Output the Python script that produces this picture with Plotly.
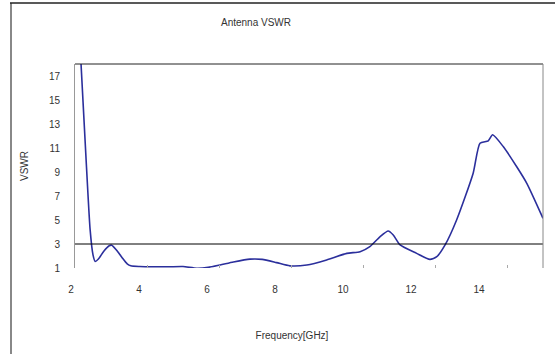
import plotly.graph_objects as go

# Data (Frequency in GHz, VSWR)
freq = [2.0, 2.15, 2.3, 2.42, 2.5, 2.56, 2.65, 2.8, 2.95, 3.02, 3.15, 3.3, 3.45, 3.55,
        3.8, 4.2, 4.6, 5.0, 5.38, 5.7, 6.03, 6.4, 6.86, 7.2, 7.6, 7.97, 8.44, 8.99,
        9.55, 9.92, 10.19, 10.47, 10.7, 10.84, 11.03, 11.49, 11.86, 12.05, 12.28,
        12.6, 13.06, 13.25, 13.48, 13.6, 13.9, 14.27, 14.55, 15.0]
vswr = [27.0, 19.0, 10.5, 4.2, 2.1, 1.55, 1.75, 2.4, 2.85, 2.9, 2.5, 1.9, 1.35, 1.18,
        1.12, 1.1, 1.1, 1.12, 0.98, 1.05, 1.25, 1.5, 1.74, 1.72, 1.45, 1.18, 1.25, 1.67,
        2.22, 2.36, 2.78, 3.6, 4.08, 3.75, 2.92, 2.22, 1.72, 1.94, 2.92,
        5.0, 8.9, 11.4, 11.6, 12.1, 11.1, 9.44, 8.06, 5.14]

x_ticks = [2, 4, 6, 8, 10, 12, 14]
x_tick_labels = ["2", "4", "6", "8", "10", "12", "14"]
y_ticks = [1, 3, 5, 7, 9, 11, 13, 15, 17]
threshold = 3

FONT = "Liberation Sans"
W, H = 555, 354
L, R, T, B = 66, 12, 64, 86
PLOT_LEFT = 75
pw, ph = W - L - R, H - T - B

def px_x(p):
    return (p - L) / pw

def px_y(p):
    return (H - B - p) / ph

LBL_SCALE = 34  # px per GHz for the label row
LBL_X2 = 71     # pixel of label "2"
LBL_RIGHT = 518

fig = go.Figure()
# dummy trace for the label axis (added first so it sits underneath)
fig.add_trace(go.Scatter(x=[None], y=[None], xaxis="x2", yaxis="y", showlegend=False))
fig.add_trace(go.Scatter(x=freq, y=vswr, mode="lines",
                         line=dict(color="#2b2f9c", width=1.6, shape="spline", smoothing=0.6),
                         showlegend=False, hoverinfo="x+y"))

fig.update_layout(
    width=W, height=H,
    margin=dict(l=L, r=R, t=T, b=B, autoexpand=False),
    paper_bgcolor="white", plot_bgcolor="rgba(0,0,0,0)",
    font=dict(family=FONT, size=10, color="#333333"),
    title=dict(text="Antenna VSWR", x=px_x(256), xref="paper", xanchor="center",
               y=1 - 22 / H, yref="container", yanchor="middle",
               font=dict(family=FONT, size=10, color="#333333")),
    xaxis=dict(domain=[px_x(PLOT_LEFT), 1], range=[2, 15], tickvals=x_ticks,
               showticklabels=False, ticks="inside", ticklen=3, tickcolor="#aaaaaa",
               automargin=False, showgrid=False, zeroline=False, showline=False),
    xaxis2=dict(anchor="y", domain=[0, px_x(LBL_RIGHT)], automargin=False,
                range=[2 - (LBL_X2 - L) / LBL_SCALE, 2 + (LBL_RIGHT - LBL_X2) / LBL_SCALE],
                tickvals=x_ticks, ticktext=x_tick_labels, ticks="",
                ticklabelstandoff=14,
                tickfont=dict(family=FONT, size=10, color="#333333"),
                showgrid=False, zeroline=False, showline=False,
                title=dict(text="Frequency[GHz]", standoff=37,
                           font=dict(family=FONT, size=10, color="#333333"))),
    yaxis=dict(anchor="x", range=[1, 18], tickvals=y_ticks, ticks="", ticklabelstandoff=12,
               showgrid=False, zeroline=False, showline=True, linecolor="#999999",
               linewidth=1, automargin=False,
               title=dict(text="VSWR", standoff=18,
                          font=dict(family=FONT, size=10, color="#333333"))),
)

# threshold line at VSWR = 3
fig.add_hline(y=threshold, line=dict(color="black", width=1))

shapes = [
    # plot area top and right borders
    dict(type="line", xref="paper", yref="paper", x0=px_x(PLOT_LEFT), x1=1, y0=1, y1=1,
         line=dict(color="#222222", width=1)),
    dict(type="line", xref="paper", yref="paper", x0=1, x1=1, y0=0, y1=1,
         line=dict(color="#888888", width=1)),
    # outer chart frame (left and top)
    dict(type="line", xref="paper", yref="paper", x0=px_x(11), x1=px_x(11),
         y0=px_y(3), y1=px_y(H + 5), line=dict(color="#888888", width=2)),
    dict(type="line", xref="paper", yref="paper", x0=px_x(10), x1=px_x(W + 5),
         y0=px_y(3), y1=px_y(3), line=dict(color="#222222", width=1.5)),
]
for s in shapes:
    fig.add_shape(**s)

fig.write_html("out.html", config={"displayModeBar": False},
               post_script="document.body.style.margin='0';document.body.style.overflow='hidden';")
